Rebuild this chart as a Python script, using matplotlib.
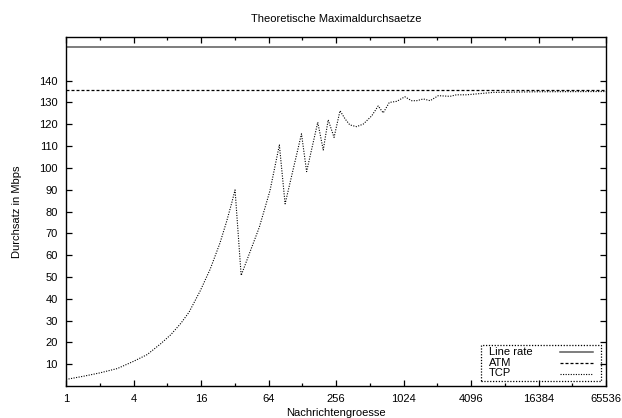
import matplotlib
matplotlib.use("Agg")
import matplotlib.pyplot as plt
from matplotlib.lines import Line2D
from matplotlib.patches import Rectangle
from matplotlib.ticker import NullFormatter

plt.rcParams['font.family'] = ['Liberation Sans', 'DejaVu Sans']
plt.rcParams['font.size'] = 8

# Message sizes (bytes) and resulting TCP throughput (Mbps)
msg_size = [1, 1.44, 2, 2.87, 4, 5.3, 7.0, 8.6, 10.6, 12.5, 15.7, 19.3,
            23.6, 27.1, 30.1, 32.2, 36.5, 53, 66, 80, 90, 126, 140, 176,
            197, 218, 246, 278, 309, 340, 391, 449, 534, 609, 675, 765,
            891, 1053, 1209, 1342, 1541, 1770, 2091, 2665, 3040, 3742,
            6472, 16384, 65536]
tcp_rate = [3.0, 4.5, 6.0, 8.0, 11.3, 14.4, 19.4, 23.5, 28.8, 33.8, 43.5,
            53.5, 65.5, 75.5, 84.0, 89.9, 50.7, 72.8, 89.6, 110.5, 83.5,
            115.6, 98.3, 120.9, 108.2, 122.0, 114.0, 126.2, 122.4, 119.7,
            118.9, 120.1, 123.9, 128.4, 125.2, 130.0, 130.5, 132.6, 130.8,
            130.8, 131.6, 130.8, 133.1, 132.8, 133.5, 133.5, 134.6, 134.9,
            135.0]

line_rate = 155.52
atm_rate = 135.63

x_ticks = [1, 4, 16, 64, 256, 1024, 4096, 16384, 65536]
x_minor = [2, 8, 32, 128, 512, 2048, 8192, 32768]
y_ticks = [10, 20, 30, 40, 50, 60, 70, 80, 90, 100, 110, 120, 130, 140]

fig = plt.figure(figsize=(6.22, 4.18), dpi=100)
ax = fig.add_axes([66 / 622, 1 - 386 / 418, 540 / 622, 349 / 418])

ax.axhline(line_rate, color='#5a5a5a', lw=1.1, ls='-')
ax.axhline(atm_rate, color='black', lw=0.9, ls=(0, (2.4, 1.6)))
ax.plot(msg_size, tcp_rate, color='black', lw=0.8, ls=(0, (1.0, 1.3)))

ax.set_xscale('log', base=2)
ax.set_xlim(1, 65536)
ax.set_ylim(0, 160)
ax.set_xticks(x_ticks)
ax.set_xticklabels([str(v) for v in x_ticks])
ax.set_xticks(x_minor, minor=True)
ax.xaxis.set_minor_formatter(NullFormatter())
ax.set_yticks(y_ticks)
ax.set_yticklabels([str(v) for v in y_ticks])
ax.tick_params(which='both', direction='in', top=True, right=True, width=0.9)
ax.tick_params(which='major', length=4.5, pad=6)
ax.tick_params(which='minor', length=2.3)
ax.tick_params(axis='y', which='minor', left=False, right=False)
for s in ax.spines.values():
    s.set_linewidth(1.0)

ax.set_title('Theoretische Maximaldurchsaetze', fontsize=8, pad=11)
ax.set_ylabel('Durchsatz in Mbps', fontsize=8, labelpad=12)
ax.set_xlabel('Nachrichtengroesse', fontsize=8, labelpad=3)

# Key box in the lower right corner
def fx(px):
    return (px - 66) / 540

def fy(py):
    return (386 - py) / 349

ax.add_patch(Rectangle((fx(481), fy(381)), fx(601) - fx(481), fy(345) - fy(381),
                       transform=ax.transAxes, fill=False, lw=0.9,
                       ls=(0, (1.0, 1.3)), ec='black', zorder=5))
entries = [('Line rate', dict(color='#5a5a5a', lw=1.1, ls='-'), 352),
           ('ATM', dict(color='black', lw=0.9, ls=(0, (2.4, 1.6))), 363),
           ('TCP', dict(color='black', lw=0.8, ls=(0, (1.0, 1.3))), 373.5)]
for label, style, py in entries:
    ax.text(fx(489), fy(py), label, transform=ax.transAxes, ha='left',
            va='center', fontsize=8, zorder=6)
    ax.add_line(Line2D([fx(560), fx(593)], [fy(py), fy(py)],
                       transform=ax.transAxes, zorder=6, **style))

fig.savefig('out.png', dpi=100)
